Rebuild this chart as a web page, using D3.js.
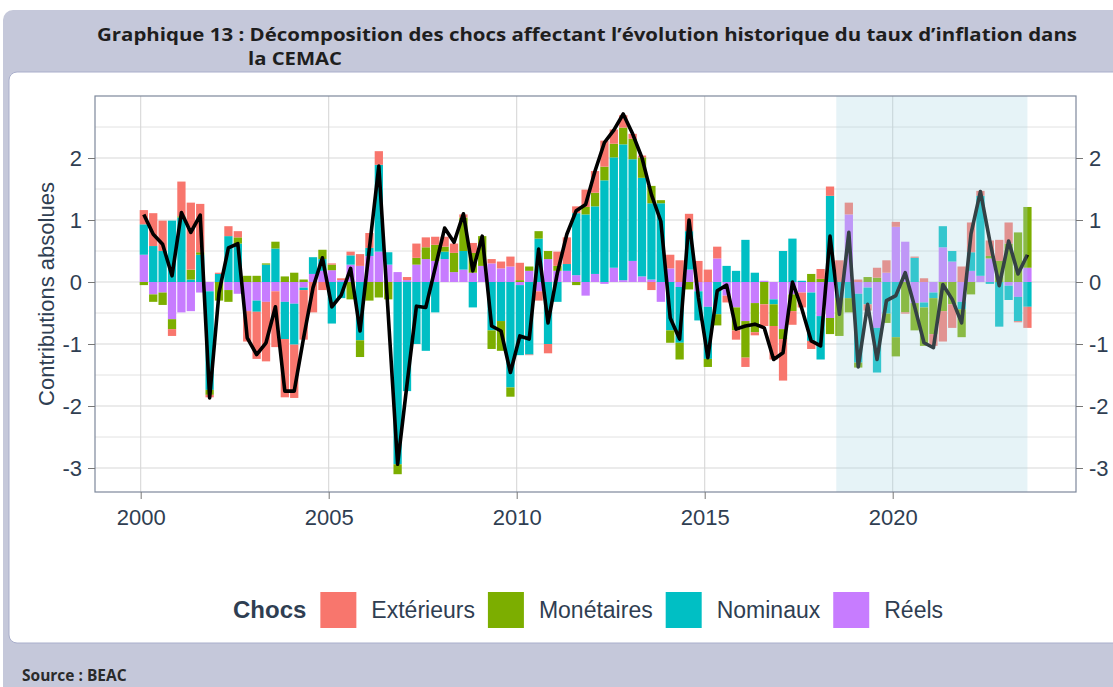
<!DOCTYPE html>
<meta charset="utf-8">
<script src="https://d3js.org/d3.v7.min.js"></script>
<style>
  body { margin: 0; background: #fff; }
  text { font-family: "Liberation Sans", Arial, sans-serif; }
</style>
<div id="my_dataviz"></div>
<script>
// quarterly categories 2000T1 .. 2023T3
var quarters = [];
d3.range(2000, 2024).forEach(function(y) {
  [1, 2, 3, 4].forEach(function(q) { if (quarters.length < 95) quarters.push(y + "T" + q); });
});

var exterieurs = [0.23,0.53,0.49,-0.11,0.56,1.08,0.78,-0.04,0.02,0.16,0.10,-0.49,-0.76,-0.96,-0.90,-0.94,
  -0.86,-0.80,-0.49,-0.13,0.02,0.03,0.06,0.19,0.24,0.22,0.00,0.00,0.05,0.23,0.16,0.13,
  0.16,0.15,0.05,0.16,0.00,0.07,0.11,0.16,0.28,-0.01,-0.15,-0.15,0.23,0.43,0.11,0.28,
  0.35,0.42,0.23,0.20,0.08,0.03,-0.13,0.00,0.22,0.35,0.28,0.34,0.20,0.19,-0.11,-0.15,
  -0.15,-0.05,-0.35,-0.54,-0.67,-0.22,-0.24,-0.13,0.16,0.15,0.35,0.19,0.04,-0.10,0.16,0.20,
  0.08,-0.02,0.02,0.06,-0.19,-0.49,-0.38,0.25,0.48,0.08,0.25,0.34,0.34,-0.02,-0.34];
var monetaires = [-0.05,-0.12,-0.20,-0.16,0.02,0.16,0.04,-0.08,-0.30,-0.19,0.10,0.10,0.10,0.02,0.11,0.09,
  0.15,0.04,0.00,0.15,0.09,0.00,-0.28,-0.27,-0.30,-0.25,-0.28,-0.16,0.00,0.11,0.19,0.26,
  0.08,0.31,0.54,0.32,0.48,-0.30,-0.48,-0.15,0.03,0.07,0.12,0.13,0.08,0.00,-0.05,0.12,
  0.22,0.22,0.22,0.27,0.33,0.33,0.28,0.05,-0.20,-0.27,-0.12,0.00,-0.13,-0.18,0.00,-0.37,
  -0.59,-0.47,-0.36,-0.35,-0.16,-0.27,0.00,0.13,0.05,-0.26,-0.61,-0.23,-0.08,0.08,0.07,-0.15,
  -0.31,-0.49,-0.44,-0.62,-0.58,-0.47,-0.36,-0.45,-0.20,0.00,0.04,0.34,0.62,0.80,0.98];
var nominaux = [0.49,0.58,0.50,0.99,1.04,0.04,0.44,-1.59,0.13,0.74,0.62,0.00,-0.18,0.28,0.54,-0.60,
  -0.66,-0.04,0.27,0.19,-0.67,-0.26,0.15,-0.94,0.13,1.40,0.20,-2.94,-1.76,-1.00,-1.11,-0.49,
  0.12,0.00,0.30,-0.41,0.00,-0.78,-0.63,-1.70,-1.13,-1.17,0.70,-1.00,-0.32,0.11,1.00,1.09,
  1.09,1.64,1.78,2.19,1.64,1.59,1.23,1.27,-0.78,-0.90,0.62,-0.47,-0.84,-0.52,0.26,0.18,
  0.68,0.15,0.00,-0.08,0.50,0.70,0.02,-0.78,-0.70,1.39,-0.26,-0.26,-1.11,-0.27,-0.72,-0.51,
  -0.89,0.00,0.39,-0.08,-0.09,0.34,0.17,-0.12,0.30,1.29,-0.03,-0.72,-0.23,-0.39,-0.40];
var reels = [0.44,-0.20,-0.17,-0.60,-0.49,-0.47,-0.17,-0.15,0.00,-0.13,-0.19,-0.47,-0.30,-0.32,-0.15,-0.32,
  -0.35,-0.09,0.13,0.18,0.19,0.03,0.28,0.26,0.42,0.49,0.28,0.16,0.03,0.28,0.37,0.34,
  0.37,0.16,0.20,0.15,0.26,0.30,0.22,0.25,-0.05,0.18,-0.15,0.37,0.18,0.18,0.11,-0.22,
  0.13,-0.03,0.23,0.03,0.34,0.09,0.04,-0.32,0.22,-0.08,0.20,-0.15,-0.40,0.38,-0.22,-0.41,
  -0.63,-0.34,0.02,-0.28,-0.76,-0.20,-0.17,-0.17,-0.55,-0.58,0.00,1.09,-0.19,-0.09,-0.74,0.15,
  0.89,0.65,-0.34,-0.33,-0.17,0.56,0.33,-0.32,0.18,0.10,0.38,0.00,-0.06,-0.24,0.23];
// observed inflation (black line)
var total = [1.09,0.77,0.61,0.10,1.12,0.80,1.08,-1.87,-0.17,0.55,0.62,-0.90,-1.17,-0.98,-0.40,-1.76,
  -1.76,-0.90,-0.09,0.39,-0.40,-0.21,0.22,-0.79,0.55,1.87,-0.52,-2.94,-1.65,-0.39,-0.41,0.23,
  0.87,0.64,1.10,0.18,0.74,-0.71,-0.79,-1.46,-0.87,-0.92,0.53,-0.66,0.15,0.77,1.15,1.25,
  1.79,2.25,2.45,2.71,2.39,2.00,1.41,0.98,-0.58,-0.92,1.00,-0.25,-1.22,-0.14,-0.05,-0.76,
  -0.71,-0.68,-0.74,-1.25,-1.14,0.00,-0.43,-0.95,-1.03,0.74,-0.52,0.80,-1.37,-0.36,-1.25,-0.30,
  -0.22,0.15,-0.40,-0.98,-1.06,-0.04,-0.28,-0.66,0.78,1.46,0.66,-0.06,0.66,0.13,0.44];

var legendLabels = ["Extérieurs", "Monétaires", "Nominaux", "Réels"];
var legendKeys = ["Exterieurs", "Monetaires", "Nominaux", "Reels"];
var colors = ["#F8766D", "#7CAE00", "#00BFC4", "#C77CFF"];
var yTicks = [-3, -2, -1, 0, 1, 2];
var xTicks = [2000, 2005, 2010, 2015, 2020];
var shadeFrom = "2018T3", shadeTo = "2023T3";

function toYear(q) { return +q.slice(0, 4) + (+q.slice(5) - 1) / 4 + 1 / 12; }

var W = 1113, H = 687;
var svg = d3.select("#my_dataviz").append("svg").attr("width", W).attr("height", H);

// card frame
svg.append("rect").attr("x", 3).attr("y", 10).attr("width", 1125).attr("height", 700)
  .attr("rx", 10).attr("fill", "#C5C8DA");
svg.append("rect").attr("x", 9).attr("y", 72).attr("width", 1120).attr("height", 571)
  .attr("rx", 8).attr("fill", "#fff").attr("stroke", "#A9AECB");

svg.append("text").attr("x", 97).attr("y", 41)
  .attr("textLength", 980).attr("lengthAdjust", "spacingAndGlyphs")
  .style("font-family", "'Open Sans', sans-serif").style("font-weight", "bold")
  .style("font-size", "18px").attr("fill", "#1e1e1e")
  .text("Graphique 13 : Décomposition des chocs affectant l’évolution historique du taux d’inflation dans");
svg.append("text").attr("x", 248).attr("y", 65)
  .attr("textLength", 94).attr("lengthAdjust", "spacingAndGlyphs")
  .style("font-family", "'Open Sans', sans-serif").style("font-weight", "bold")
  .style("font-size", "18px").attr("fill", "#1e1e1e")
  .text("la CEMAC");
svg.append("text").attr("x", 22).attr("y", 681)
  .style("font-family", "'Open Sans', sans-serif").style("font-weight", "bold")
  .style("font-size", "15.5px").attr("fill", "#2a2a2a")
  .text("Source : BEAC");

// plot panel
var L = 95, R = 1076, T = 96, B = 492;
var x = d3.scaleLinear().domain([1998.785, 2024.875]).range([L, R]);
var y = d3.scaleLinear().domain([-3.387, 3.0]).range([B, T]);

var g = svg.append("g");
g.selectAll(".minor").data(d3.range(-2.5, 3, 1)).enter().append("line")
  .attr("x1", L).attr("x2", R).attr("y1", d => y(d)).attr("y2", d => y(d))
  .attr("stroke", "#e2e2e2").attr("stroke-width", 1);
g.selectAll(".hmajor").data(yTicks).enter().append("line")
  .attr("x1", L).attr("x2", R).attr("y1", d => y(d)).attr("y2", d => y(d))
  .attr("stroke", "#d7d7d7").attr("stroke-width", 1.1);
g.selectAll(".vmajor").data(xTicks).enter().append("line")
  .attr("y1", T).attr("y2", B).attr("x1", d => x(d)).attr("x2", d => x(d))
  .attr("stroke", "#d7d7d7").attr("stroke-width", 1.1);

var table = quarters.map(function(q, i) {
  return { q: q, t: toYear(q), Exterieurs: exterieurs[i], Monetaires: monetaires[i],
           Nominaux: nominaux[i], Reels: reels[i] };
});
var stackOrder = ["Reels", "Nominaux", "Monetaires", "Exterieurs"];
var series = d3.stack().keys(stackOrder).offset(d3.stackOffsetDiverging)(table);
var color = d3.scaleOrdinal().domain(legendKeys).range(colors);
var bw = x(2000.22) - x(2000);

g.selectAll(".serie").data(series).enter().append("g")
  .attr("fill", d => color(d.key))
  .selectAll("rect").data(d => d).enter().append("rect")
  .attr("x", d => x(d.data.t) - bw / 2)
  .attr("width", bw)
  .attr("y", d => y(Math.max(d[0], d[1])))
  .attr("height", d => Math.abs(y(d[0]) - y(d[1])));

g.append("path").datum(total)
  .attr("fill", "none").attr("stroke", "#000").attr("stroke-width", 3.6)
  .attr("stroke-linejoin", "round")
  .attr("d", d3.line().x((d, i) => x(toYear(quarters[i]))).y(d => y(d)));

// projection period
g.append("rect")
  .attr("x", x(toYear(shadeFrom) - 1 / 12)).attr("y", T)
  .attr("width", x(toYear(shadeTo)) - x(toYear(shadeFrom) - 1 / 12)).attr("height", B - T)
  .attr("fill", "lightblue").attr("fill-opacity", 0.3);

g.append("rect").attr("x", L).attr("y", T).attr("width", R - L).attr("height", B - T)
  .attr("fill", "none").attr("stroke", "#7d889b").attr("stroke-width", 1.2);

// axes
var axisColor = "#2f3e52";
function styleAxis(sel) {
  sel.select(".domain").remove();
  sel.selectAll(".tick line").attr("stroke", "#777");
  sel.selectAll(".tick text").attr("fill", axisColor)
    .style("font-family", "'Liberation Sans', Arial, sans-serif").style("font-size", "22px");
}
var fmt = function(d) { return String(d); };
svg.append("g").attr("transform", "translate(" + L + ",0)")
  .call(d3.axisLeft(y).tickValues(yTicks).tickFormat(fmt).tickSize(7).tickPadding(6)).call(styleAxis);
svg.append("g").attr("transform", "translate(" + R + ",0)")
  .call(d3.axisRight(y).tickValues(yTicks).tickFormat(fmt).tickSize(7).tickPadding(6)).call(styleAxis);
svg.append("g").attr("transform", "translate(0," + B + ")")
  .call(d3.axisBottom(x).tickValues(xTicks).tickFormat(fmt).tickSize(7).tickPadding(10))
  .call(styleAxis);

svg.append("text").attr("transform", "translate(54," + ((T + B) / 2) + ") rotate(-90)")
  .attr("text-anchor", "middle").attr("fill", axisColor).style("font-size", "22px")
  .text("Contributions absolues");

// legend
var leg = svg.append("g").attr("transform", "translate(233,610)");
var title = leg.append("text").attr("x", 0).attr("y", 8).attr("fill", axisColor)
  .style("font-size", "24px").style("font-weight", "bold").text("Chocs");
var cx = title.node().getComputedTextLength() + 14;
legendLabels.forEach(function(lab, i) {
  leg.append("rect").attr("x", cx).attr("y", -18).attr("width", 36).attr("height", 36)
    .attr("fill", colors[i]);
  var t = leg.append("text").attr("x", cx + 51).attr("y", 8).attr("fill", axisColor)
    .style("font-size", "23px").text(lab);
  cx += 51 + t.node().getComputedTextLength() + 13;
});
</script>
